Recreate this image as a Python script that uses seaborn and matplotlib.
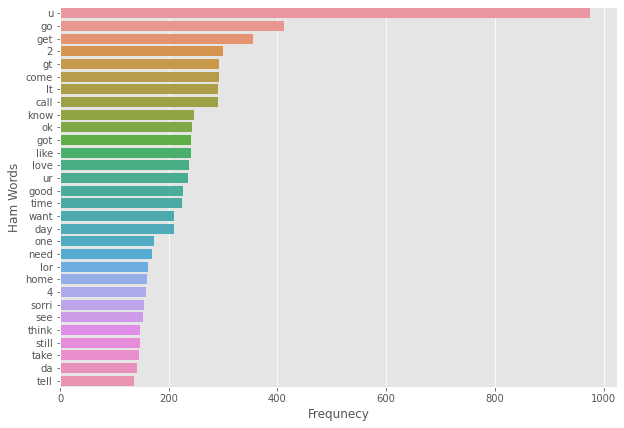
import pandas as pd
import seaborn as sns
import matplotlib
matplotlib.use("Agg")
import matplotlib.pyplot as plt

# Top ham words and their counts
words = ["u", "go", "get", "2", "gt", "come", "lt", "call", "know", "ok",
         "got", "like", "love", "ur", "good", "time", "want", "day", "one", "need",
         "lor", "home", "4", "sorri", "see", "think", "still", "take", "da", "tell"]
counts = [976, 412, 355, 300, 293, 293, 291, 290, 247, 243,
          241, 241, 237, 236, 226, 225, 210, 210, 173, 169,
          162, 160, 158, 155, 153, 147, 147, 145, 142, 136]

df = pd.DataFrame({"Ham Words": words, "Frequnecy": counts})

plt.style.use("ggplot")
fig = plt.figure(figsize=(624 / 72, 428 / 72), dpi=72)
ax = fig.add_axes([60 / 624, 1 - 387 / 428, 557 / 624, 380 / 428])

colors = sns.husl_palette(len(words), l=.7)
sns.barplot(data=df, x="Frequnecy", y="Ham Words", hue="Ham Words",
            palette=colors, saturation=0.75, legend=False, ax=ax)

plt.savefig("out.png", dpi=72)
